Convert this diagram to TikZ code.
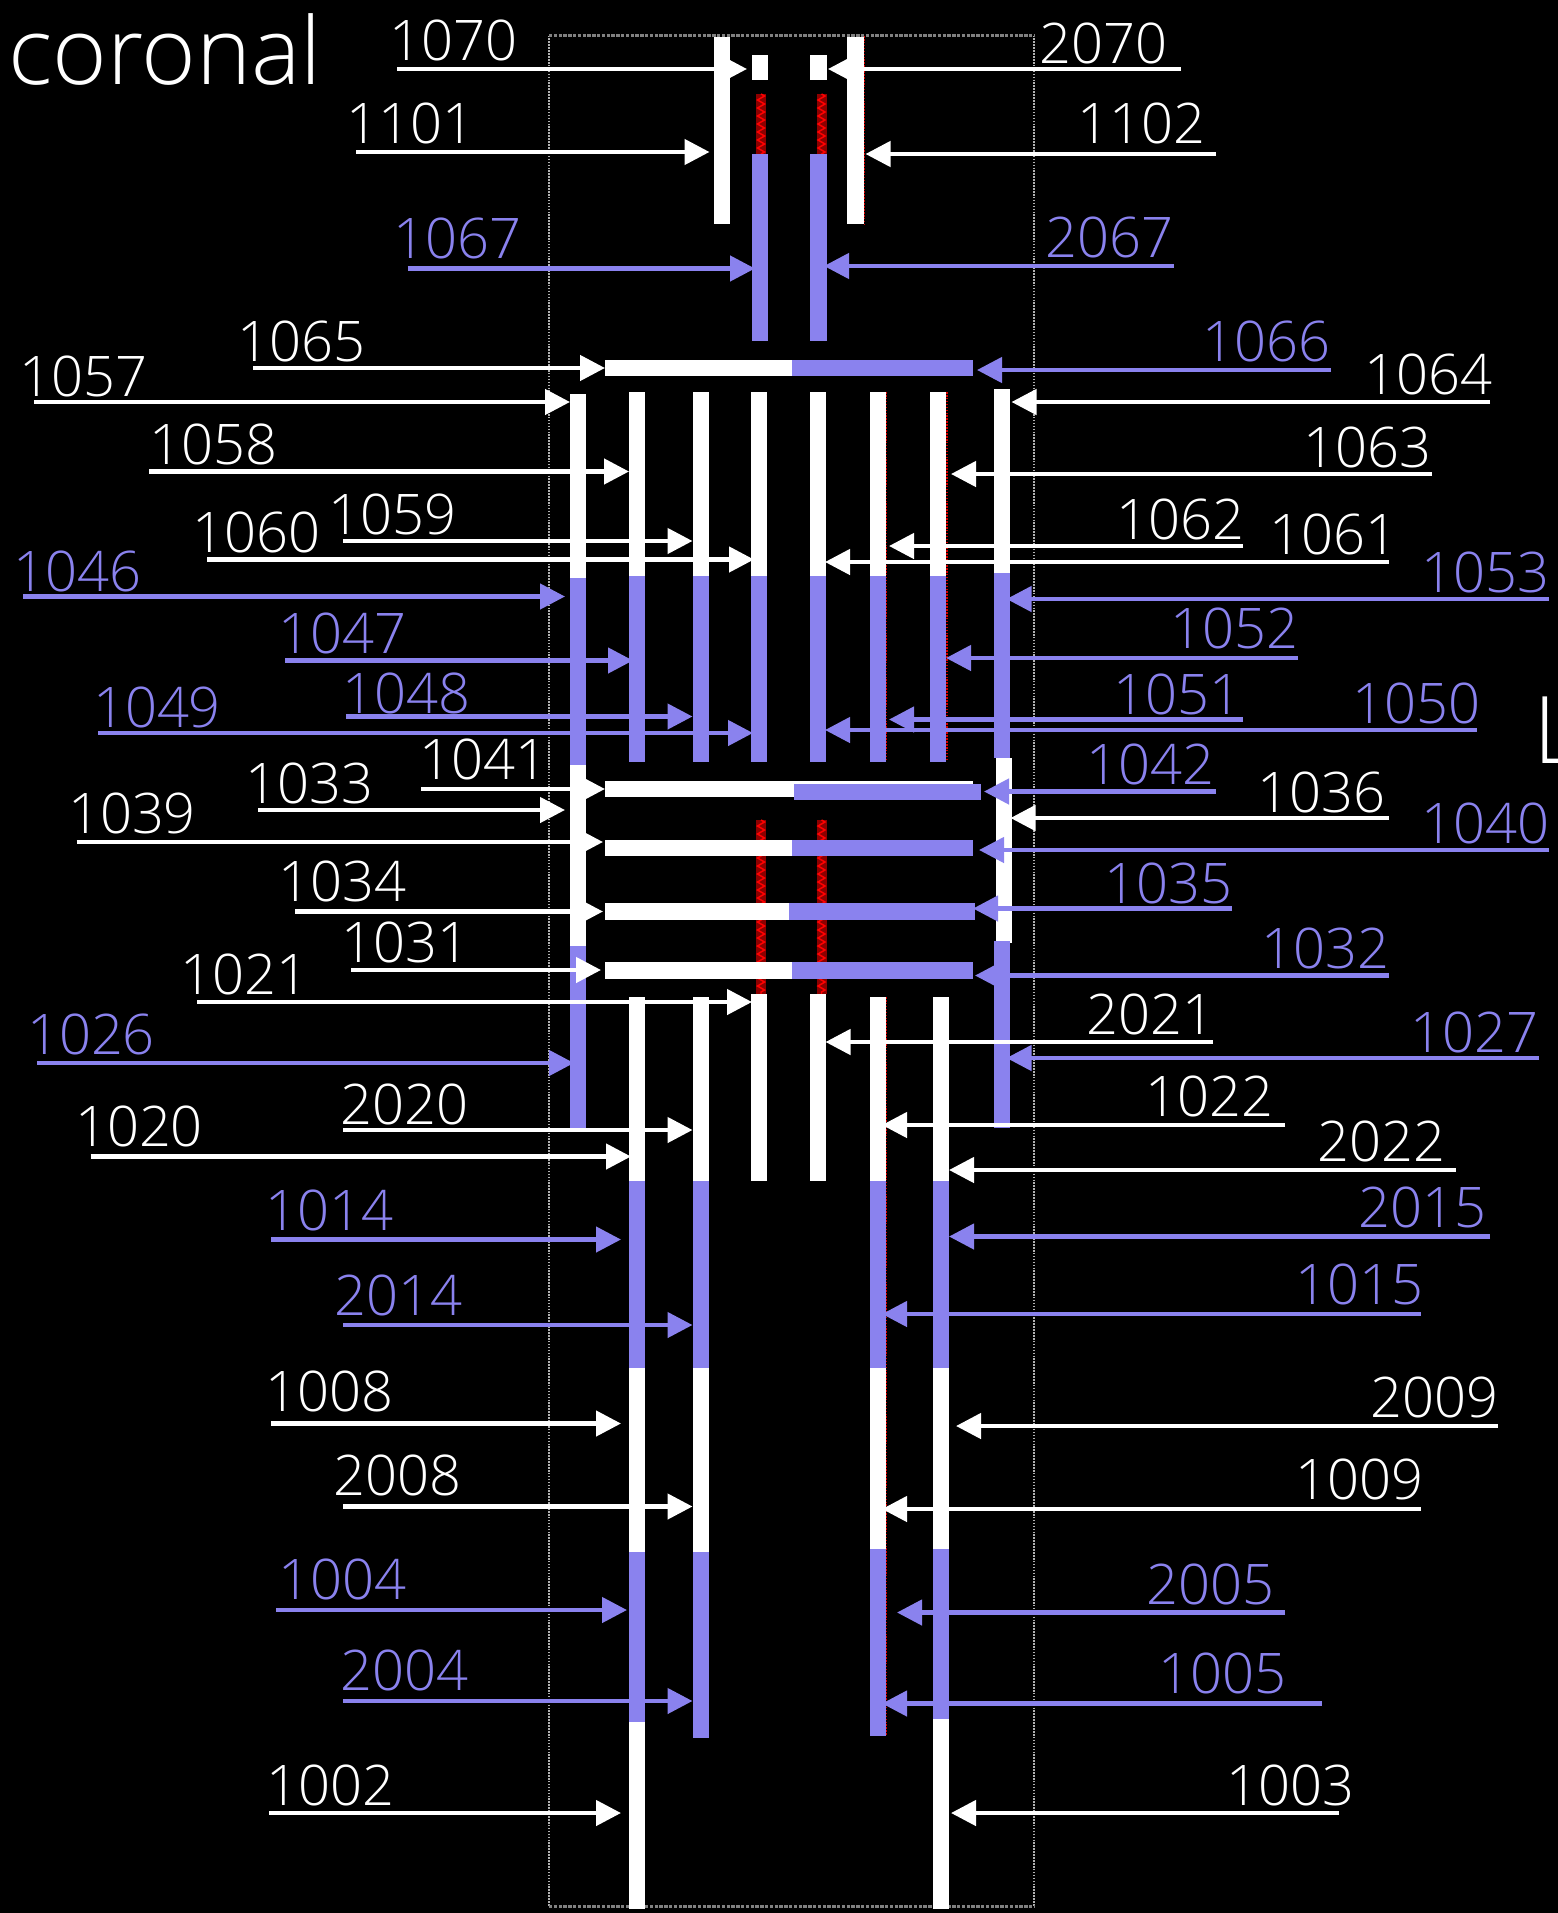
\documentclass[tikz,border=0pt]{standalone}
\usepackage{fontspec}
\setmainfont{Open Sans}[UprightFont=* Light]
\usetikzlibrary{arrows.meta,decorations.pathmorphing}
\definecolor{lila}{RGB}{138,130,238}
\definecolor{dimred}{RGB}{140,0,0}
\tikzset{
  wlead/.style={white},
  plead/.style={lila},
  lead/.style={line width=3.4pt,-{Triangle[length=18.75pt,width=18.75pt]}},
  tag/.style={inner sep=0pt,font=\fontsize{42}{42}\selectfont},
  bigtag/.style={inner sep=0pt,white,font=\fontsize{70}{70}\selectfont},
  hatch/.style={red,line width=1.1pt,decorate,decoration={zigzag,segment length=6pt,amplitude=2.6pt}},
  redge/.style={red!85!black,line width=1.2pt,densely dotted}
}
\begin{document}
\begin{tikzpicture}[x=0.75pt,y=-0.75pt]
  \clip (0,0) rectangle (1558,1913);
  \fill [black] (0,0) rectangle (1558,1913);

  % frame
  \draw [gray!60,line width=1.2pt,densely dotted] (549,35.5) -- (549,1906.5);
  \draw [gray!60,line width=1.2pt,densely dotted] (1034,35.5) -- (1034,1906.5);
  \draw [gray,line width=2.6pt,densely dotted] (549,35.5) -- (1034,35.5);
  \draw [gray,line width=2.6pt,densely dotted] (549,1906.5) -- (1034,1906.5);

  % red columns
  \foreach \x in {761,821.5}{
    \foreach \a/\b in {94/154,820/994}{
      \fill [dimred] (\x-5,\a) rectangle (\x+5,\b);
      \draw [hatch] (\x,\a) -- (\x,\b);
    }
  }

  % red edges
  \draw [redge] (864.5,36) -- (864.5,224);
  \draw [redge] (886.5,392) -- (886.5,761);
  \draw [redge] (886.5,997) -- (886.5,1735);
  \draw [redge] (947,392) -- (947,761);

  % top bars
  \fill [white] (714,36.5) rectangle (730,224);
  \fill [white] (847,36.5) rectangle (863.5,224);
  \fill [white] (751.5,55) rectangle (767.5,79.5);
  \fill [white] (810,55) rectangle (826.5,79.5);
  \fill [lila] (751.5,154) rectangle (767.5,340.5);
  \fill [lila] (810,154) rectangle (826.5,340.5);

  % vertical bars, upper block
  \foreach \x/\a/\b in {637/391.5/575.5,700.5/391.5/575.5,759/391.5/575.5,818/391.5/575.5,877.5/391.5/575.5,938/391.5/575.5}{
    \fill [white] (\x-8,\a) rectangle (\x+8,\b);
    \fill [lila] (\x-8,\b) rectangle (\x+8,761.5);
  }
  \fill [white] (570,394) rectangle (586,578);
  \fill [lila] (570,578) rectangle (586,764.5);
  \fill [white] (570,764.5) rectangle (586,946);
  \fill [lila] (570,946) rectangle (586,1128);
  \fill [white] (993.5,389) rectangle (1009.5,573);
  \fill [lila] (993.5,573) rectangle (1009.5,758);
  \fill [white] (995.5,758) rectangle (1011.5,943);
  \fill [lila] (993.5,941) rectangle (1009.5,1128);

  % horizontal bars
  \fill [white] (605,781) rectangle (973,784);
  \fill [white] (605,781) rectangle (795,797);
  \fill [lila] (794,783.7) rectangle (981,799.6);
  \fill [white] (605,359.5) rectangle (792,375.5);
  \fill [lila] (792,359.5) rectangle (973,375.5);
  \fill [white] (605,839.5) rectangle (792,855.5);
  \fill [lila] (792,839.5) rectangle (973,855.5);
  \fill [white] (605,903) rectangle (789,919.5);
  \fill [lila] (789,903) rectangle (975,919.5);
  \fill [white] (605,962) rectangle (792,978.5);
  \fill [lila] (792,962) rectangle (973,978.5);

  % lower block
  \fill [white] (751,994) rectangle (767,1181);
  \fill [white] (810,994) rectangle (826,1181);
  \fill [white] (629,997) rectangle (645,1181);
  \fill [lila] (629,1181) rectangle (645,1367.5);
  \fill [white] (629,1367.5) rectangle (645,1551.5);
  \fill [lila] (629,1551.5) rectangle (645,1722);
  \fill [white] (629,1722) rectangle (645,1908.5);
  \fill [white] (692.5,997) rectangle (708.5,1181);
  \fill [lila] (692.5,1181) rectangle (708.5,1367.5);
  \fill [white] (692.5,1367.5) rectangle (708.5,1551.5);
  \fill [lila] (692.5,1551.5) rectangle (708.5,1738);
  \fill [white] (869.5,997) rectangle (885.5,1181);
  \fill [lila] (869.5,1181) rectangle (885.5,1367.5);
  \fill [white] (869.5,1367.5) rectangle (885.5,1548.5);
  \fill [lila] (869.5,1548.5) rectangle (885.5,1735.5);
  \fill [white] (933,997) rectangle (949,1181);
  \fill [lila] (933,1181) rectangle (949,1367.5);
  \fill [white] (933,1367.5) rectangle (949,1548.5);
  \fill [lila] (933,1548.5) rectangle (949,1719);
  \fill [white] (933,1719) rectangle (949,1908.5);

  % titles
  \node [bigtag,anchor=base west] (coronal) at (8,84) {coronal};
  \node [bigtag,anchor=base west] (sideL) at (1533,763) {L};

  % labels and leaders: name/text x/text y/start x/tip x/y/style
  \foreach \lab/\tx/\ty/\xa/\xb/\ya/\sty in {
    1070/453/40/397/747/69/wlead,
    1101/410/123/356/709.5/152/wlead,
    1067/457/238/407.5/755/268.5/plead,
    1065/301/341/253/605/368/wlead,
    1057/83.5/376/34/570/402/wlead,
    1058/213.5/444/149/629/471.5/wlead,
    1059/392.5/514/343/692.5/541/wlead,
    1060/256/532/207/754/559.5/wlead,
    1046/77.5/571.5/23/565/596.5/plead,
    1047/342/633.5/285/633/660.5/plead,
    1048/406/693/346/692.5/716.5/plead,
    1049/157/707.5/98/753/733/plead,
    1041/483/759/421/605/789/wlead,
    1033/309/783.5/258/565/810/wlead,
    1039/132/813.5/76.5/603/842/wlead,
    1034/342/881/295/603/911.5/wlead,
    1031/405/942/351/601/970/wlead,
    1021/244/974.5/197/752/1002/wlead,
    1026/91/1034/37/574/1063/plead,
    2020/404/1104/343/692.5/1130/wlead,
    1020/139/1126/90.5/631/1156.5/wlead,
    1014/329/1210/271/621/1239.5/plead,
    2014/398.5/1295/343/692.5/1325/plead,
    1008/329/1391.5/271/621/1423.5/wlead,
    2008/397.5/1475/343/692.5/1506.5/wlead,
    1004/342/1579.5/276/627/1610/plead,
    2004/404/1670/343/692.5/1701/plead,
    1002/330/1785/269/621/1813/wlead,
    2070/1103/43/1181/828/69/wlead,
    1102/1141/123/1216/865.5/154/wlead,
    2067/1109/237/1173.5/824/266/plead,
    1066/1266/341/1331/977/370/plead,
    1064/1428/374.5/1490/1011.5/402/wlead,
    1063/1367/447/1432/951/474/wlead,
    1062/1180/519.5/1243/889/546/wlead,
    1061/1333/534/1389/825/562/wlead,
    1053/1485/572/1549/1006.5/599/plead,
    1052/1234/628/1298/946/658/plead,
    1051/1177/694.5/1243/889/719.5/plead,
    1050/1416/703/1476.5/825/730/plead,
    1042/1150/764.5/1216/984/791.5/plead,
    1036/1321.5/792/1389/1010.5/818/wlead,
    1040/1485/823.5/1549/979/850/plead,
    1035/1168.5/883.5/1232/973/908.5/plead,
    1032/1325.5/948/1389/975/975.5/plead,
    2021/1150.5/1014/1213/825.5/1042/wlead,
    1027/1474.5/1032/1539/1006.5/1058/plead,
    1022/1209/1096/1285/882/1125/wlead,
    2022/1381/1141/1455.5/949/1170/wlead,
    2015/1422/1207.5/1490/949/1236.5/plead,
    1015/1359/1284.5/1421/882/1314/plead,
    2009/1434/1397.5/1498/956/1426/wlead,
    1009/1359/1479/1421/882/1509/wlead,
    2005/1210/1584/1285/897/1612.5/plead,
    1005/1222/1673/1321.5/882/1703.5/plead,
    1003/1290/1785/1339/951/1813/wlead}{
    \node [tag,\sty] (n\lab) at (\tx,\ty) {\lab};
    \coordinate (s\lab) at (\xa,\ya);
    \coordinate (t\lab) at (\xb,\ya);
    \draw [lead,\sty] (s\lab) -- (t\lab);
  }
\end{tikzpicture}
\end{document}
